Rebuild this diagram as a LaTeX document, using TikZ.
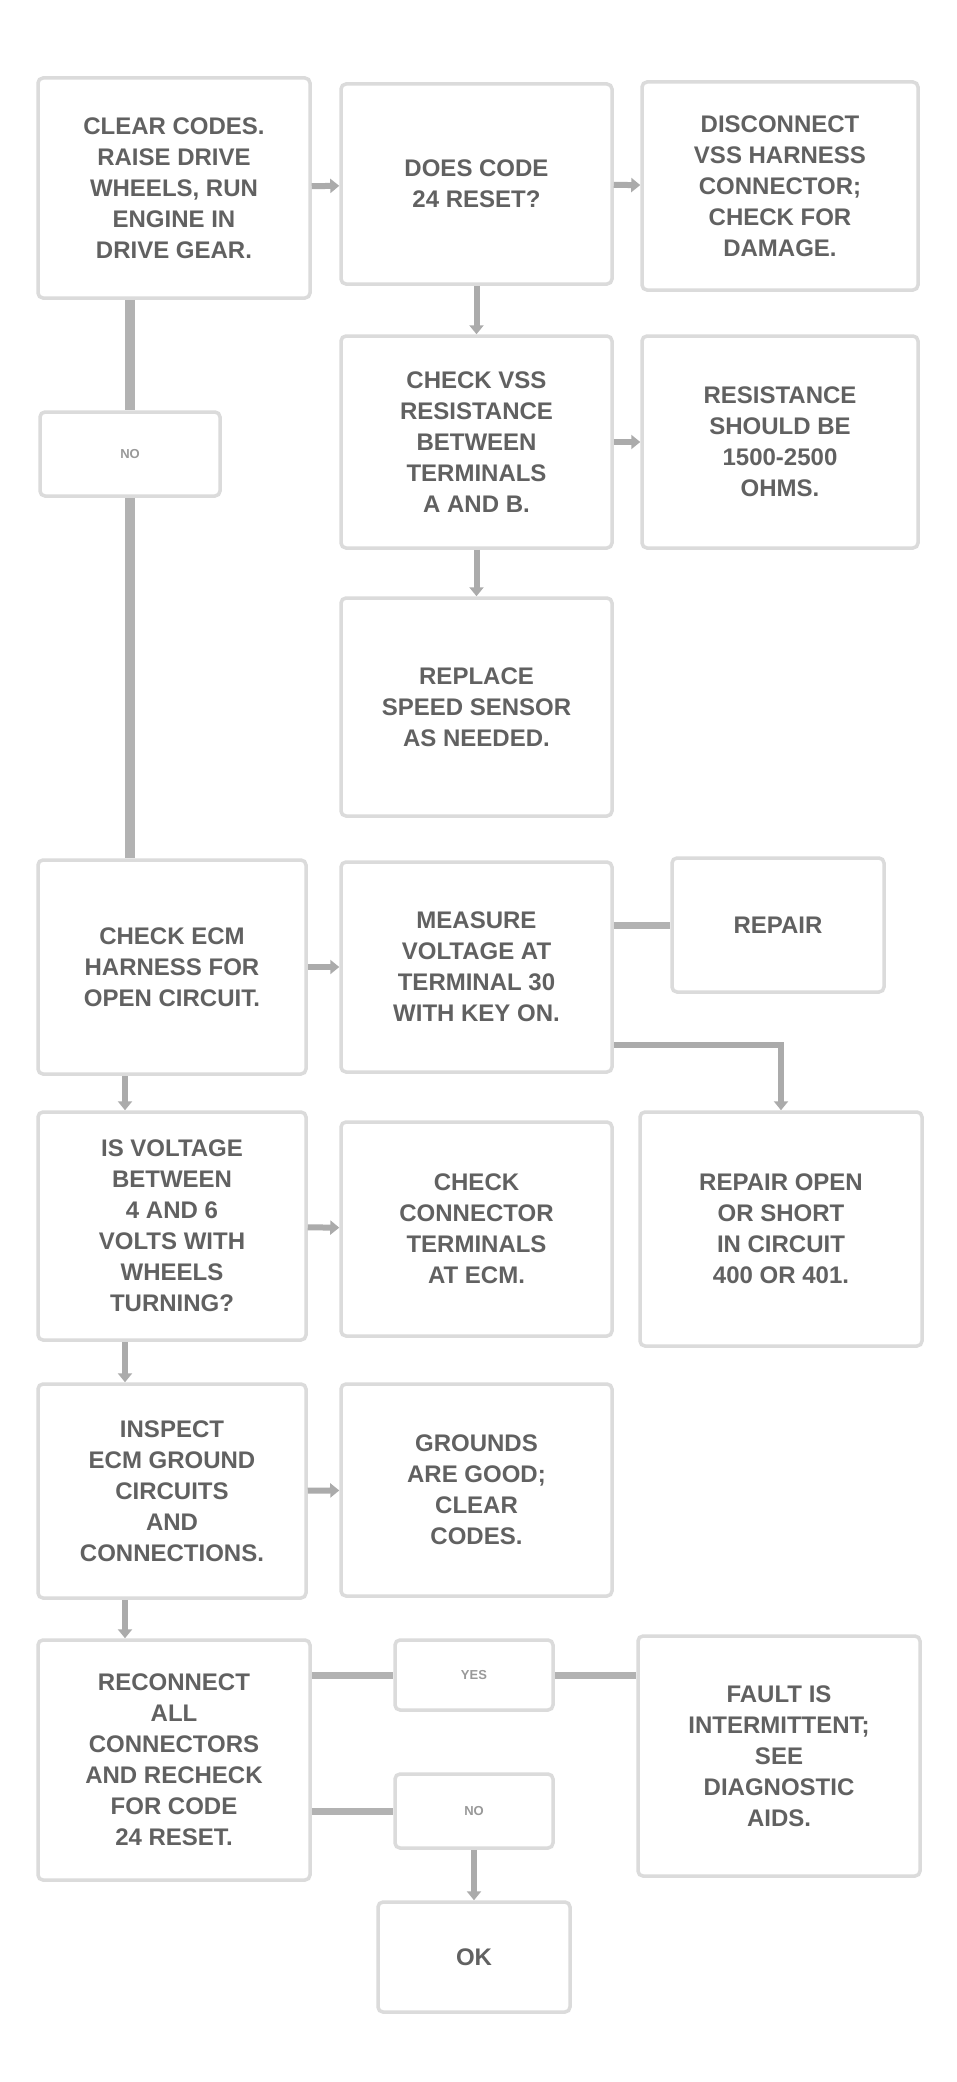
\documentclass[tikz,border=0pt]{standalone}
\usepackage{fontspec}
\setmainfont{Liberation Sans}
\usetikzlibrary{arrows.meta}
\tikzset{
  x=1pt, y=-1pt,
  box/.style={draw=black!14, line width=3.5pt, rounded corners=5pt, fill=white,
    align=center, inner sep=0pt, text=black!62,
    font=\bfseries\fontsize{24}{31}\selectfont},
  tiny/.style={box, text=black!40, font=\bfseries\fontsize{13}{16}\selectfont},
  conn/.style={draw=black!33, line width=6pt,
    -{Triangle[length=9pt,width=14pt]}},
  bar/.style={draw=black!30, line width=7pt},
  thickbar/.style={draw=black!30, line width=10pt},
}
\begin{document}
\begin{tikzpicture}
\useasboundingbox (0,0) rectangle (956,2082);
\fill[white] (0,0) rectangle (956,2082);
% row 1
\node[box, minimum width=272, minimum height=220] (A) at (174,188)
  {CLEAR CODES.\\ RAISE DRIVE\\ WHEELS, RUN\\ ENGINE IN\\ DRIVE GEAR.};
\node[box, minimum width=271, minimum height=200] (B) at (476.5,184)
  {DOES CODE\\ 24 RESET?};
\node[box, minimum width=276, minimum height=208] (C) at (780,186)
  {DISCONNECT\\ VSS HARNESS\\ CONNECTOR;\\ CHECK FOR\\ DAMAGE.};
% small left box
\node[tiny, minimum width=180, minimum height=84] (S1) at (130,454) {NO};
% row 2
\node[box, minimum width=271, minimum height=212] (B2) at (476.5,442)
  {CHECK VSS\\ RESISTANCE\\ BETWEEN\\ TERMINALS\\ A AND B.};
\node[box, minimum width=276, minimum height=212] (C2) at (780,442)
  {RESISTANCE\\ SHOULD BE\\ 1500-2500\\ OHMS.};
% row 3
\node[box, minimum width=271, minimum height=218] (B3) at (476.5,707)
  {REPLACE\\ SPEED SENSOR\\ AS NEEDED.};
% row 4
\node[box, minimum width=268, minimum height=214] (D) at (172,967)
  {CHECK ECM\\ HARNESS FOR\\ OPEN CIRCUIT.};
\node[box, minimum width=271, minimum height=210] (E) at (476.5,967)
  {MEASURE\\ VOLTAGE AT\\ TERMINAL 30\\ WITH KEY ON.};
\node[box, minimum width=212, minimum height=134] (F) at (778,925)
  {REPAIR};
% row 5
\node[box, minimum width=268, minimum height=228] (G) at (172,1226)
  {IS VOLTAGE\\ BETWEEN\\ 4 AND 6\\ VOLTS WITH\\ WHEELS\\ TURNING?};
\node[box, minimum width=271, minimum height=214] (H) at (476.5,1229)
  {CHECK\\ CONNECTOR\\ TERMINALS\\ AT ECM.};
\node[box, minimum width=282, minimum height=234] (I) at (781,1229)
  {REPAIR OPEN\\ OR SHORT\\ IN CIRCUIT\\ 400 OR 401.};
% row 6
\node[box, minimum width=268, minimum height=214] (J) at (172,1491)
  {INSPECT\\ ECM GROUND\\ CIRCUITS\\ AND\\ CONNECTIONS.};
\node[box, minimum width=271, minimum height=212] (K) at (476.5,1490)
  {GROUNDS\\ ARE GOOD;\\ CLEAR\\ CODES.};
% row 7
\node[box, minimum width=272, minimum height=240] (L) at (174,1760)
  {RECONNECT\\ ALL\\ CONNECTORS\\ AND RECHECK\\ FOR CODE\\ 24 RESET.};
\node[tiny, minimum width=158, minimum height=70] (M) at (474,1675) {YES};
\node[box, minimum width=282, minimum height=240] (N) at (779,1756)
  {FAULT IS\\ INTERMITTENT;\\ SEE\\ DIAGNOSTIC\\ AIDS.};
\node[tiny, minimum width=158, minimum height=74] (O) at (474,1811) {NO};
\node[box, minimum width=192, minimum height=110] (P) at (474,1957) {OK};
% helper coordinates
\coordinate (lx) at (125,0);
\coordinate (e1) at (0,1045);
% connectors
\draw[conn] (A) -- (B);
\draw[conn] (B) -- (C);
\draw[thickbar] (A.south -| S1.north) -- (S1.north);
\draw[thickbar] (S1.south) -- (S1.south |- D.north);
\draw[conn] (B) -- (B2);
\draw[conn] (B2) -- (C2);
\draw[conn] (B2) -- (B3);
\draw[conn] (D) -- (E);
\draw[bar] (E.east |- F.west) -- (F.west);
\draw[conn] (E.east |- e1) -- (I.north |- e1) -- (I.north);
\draw[conn] (D.south -| lx) -- (G.north -| lx);
\draw[conn] (G) -- (H);
\draw[conn] (G.south -| lx) -- (J.north -| lx);
\draw[conn] (J) -- (K);
\draw[conn] (J.south -| lx) -- (L.north -| lx);
\draw[bar] (L.east |- M.west) -- (M.west);
\draw[bar] (M.east) -- (N.west |- M.east);
\draw[bar] (L.east |- O.west) -- (O.west);
\draw[conn] (O.south) -- (P.north);
\end{tikzpicture}
\end{document}
